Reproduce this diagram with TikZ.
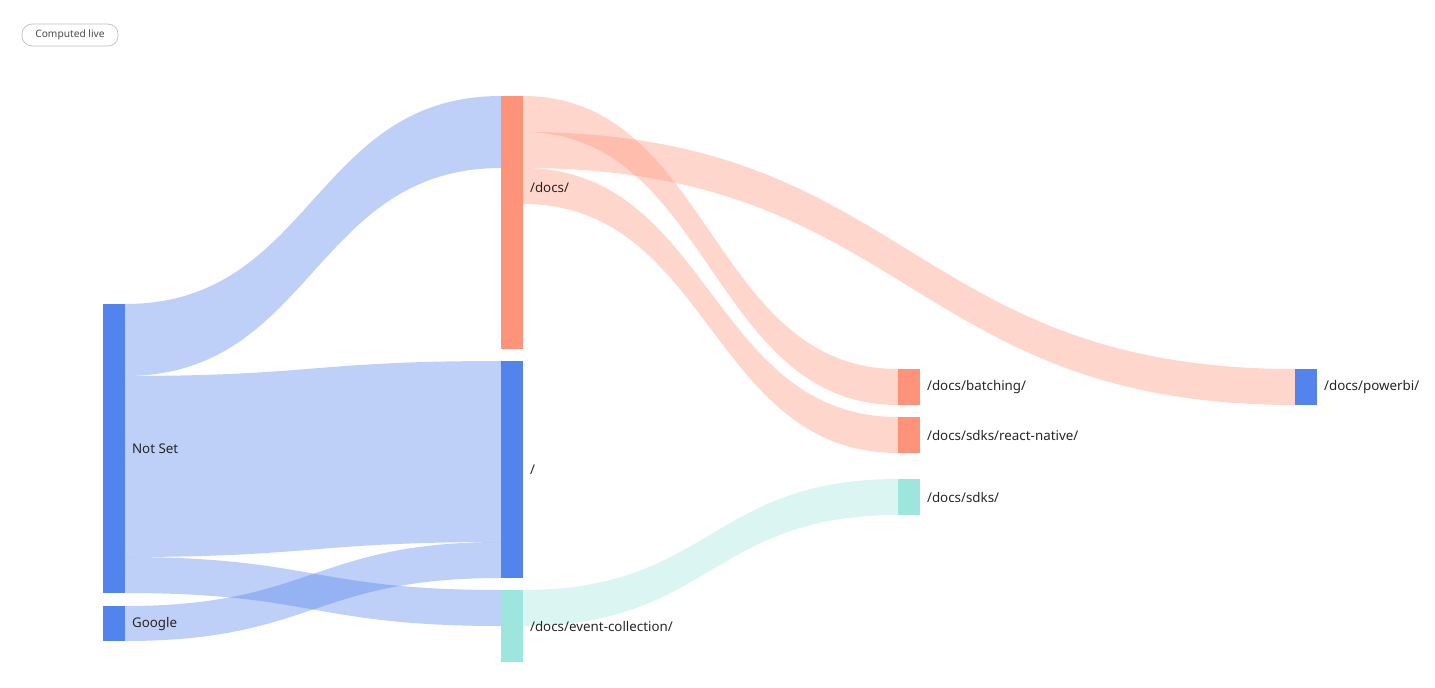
\documentclass[tikz,border=0pt]{standalone}
\usepackage{fontspec}
\setmainfont{Noto Sans}
\definecolor{blueNode}{HTML}{5383EC}
\definecolor{salmonNode}{HTML}{FF937A}
\definecolor{tealNode}{HTML}{9DE6DE}
\newcommand{\flowband}[7]{%
  \pgfmathsetmacro\xm{(#1+#4)/2}
  \fill[#7,opacity=.38] (#1,#2) .. controls (\xm,#2) and (\xm,#5) .. (#4,#5)
    -- (#4,#6) .. controls (\xm,#6) and (\xm,#3) .. (#1,#3) -- cycle;}
\begin{document}
\begin{tikzpicture}[x=0.02cm,y=-0.02cm,
  bar/.style={draw=none,inner sep=0pt,anchor=north west,minimum width=0.44cm},
  lbl/.style={anchor=west,font=\fontsize{7.6}{9}\selectfont,text=black!85,inner sep=0pt}]
\useasboundingbox (0,0) rectangle (1435,687);
% flows
\flowband{125}{304}{376}{501}{96}{168}{blueNode}
\flowband{125}{376}{557}{501}{361}{542}{blueNode}
\flowband{125}{557}{593}{501}{590}{626}{blueNode}
\flowband{125}{606}{641}{501}{542}{578}{blueNode}
\flowband{523}{96}{132}{898}{369}{405}{salmonNode}
\flowband{523}{132}{168}{1295}{369}{405}{salmonNode}
\flowband{523}{168}{204}{898}{417}{453}{salmonNode}
\flowband{523}{590}{626}{898}{479}{515}{tealNode}
% nodes
\node[bar,fill=blueNode,minimum height=5.78cm] (notset) at (103,304) {};
\node[bar,fill=blueNode,minimum height=0.70cm] (google) at (103,606) {};
\node[bar,fill=salmonNode,minimum height=5.06cm] (docs) at (501,96) {};
\node[bar,fill=blueNode,minimum height=4.34cm] (root) at (501,361) {};
\node[bar,fill=tealNode,minimum height=1.44cm] (evcoll) at (501,590) {};
\node[bar,fill=salmonNode,minimum height=0.72cm] (batching) at (898,369) {};
\node[bar,fill=salmonNode,minimum height=0.72cm] (reactnative) at (898,417) {};
\node[bar,fill=tealNode,minimum height=0.72cm] (sdks) at (898,479) {};
\node[bar,fill=blueNode,minimum height=0.72cm] (powerbi) at (1295,369) {};
% labels
\node[lbl] at ([xshift=0.12cm]notset.east) {Not Set};
\node[lbl] at ([xshift=0.12cm]google.east) {Google};
\node[lbl] at ([xshift=0.12cm,yshift=0.7cm]docs.east) {/docs/};
\node[lbl] at ([xshift=0.12cm]root.east) {/};
\node[lbl] at ([xshift=0.12cm]evcoll.east) {/docs/event-collection/};
\node[lbl] at ([xshift=0.12cm]batching.east) {/docs/batching/};
\node[lbl] at ([xshift=0.12cm]reactnative.east) {/docs/sdks/react-native/};
\node[lbl] at ([xshift=0.12cm]sdks.east) {/docs/sdks/};
\node[lbl] at ([xshift=0.12cm]powerbi.east) {/docs/powerbi/};
% badge
\node[draw=black!25,rounded corners=0.2cm,minimum width=1.92cm,minimum height=0.4cm,
  font=\fontsize{5.8}{7}\selectfont,text=black!70] (badge) at (70,35) {Computed live};
\end{tikzpicture}
\end{document}
